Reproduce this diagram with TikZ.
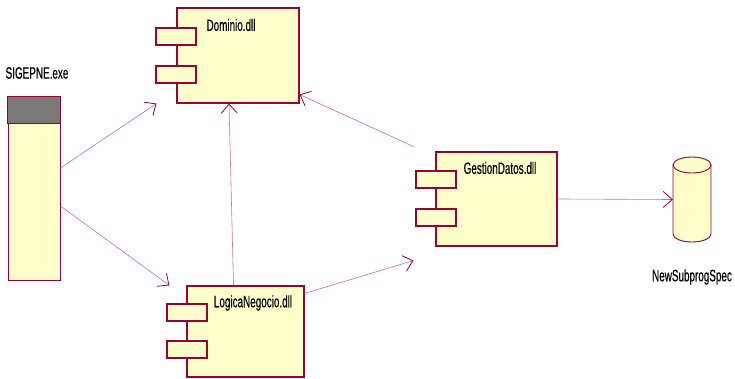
\documentclass[tikz,border=0pt]{standalone}
\usepackage{fontspec}
\newfontfamily\narrowfont{Liberation Sans}[FakeStretch=0.6,FakeBold=0.4]
\usetikzlibrary{arrows.meta}
\definecolor{edgered}{RGB}{153,0,51}
\definecolor{linkpink}{RGB}{212,110,145}
\definecolor{compfill}{RGB}{255,255,204}
\tikzset{
  comp/.style={draw=edgered,fill=compfill,line width=1.1pt,inner sep=0pt},
  port/.style={draw=edgered,fill=compfill,line width=1.1pt,inner sep=0pt,
    minimum width=40,minimum height=17,anchor=north west},
  lbl/.style={font=\narrowfont\fontsize{16.5}{18}\selectfont,inner sep=0pt},
  dep/.style={draw=linkpink,line width=0.6pt,
    -{Straight Barb[length=9pt,width=16pt,line width=0.8pt,color=edgered]}}
}
\begin{document}
\begin{tikzpicture}[x=1pt,y=-1pt]
\useasboundingbox (0,0) rectangle (735,379);

% SIGEPNE.exe
\node[lbl] (exelbl) at (37,73) {SIGEPNE.exe};
\node[draw=edgered,fill=compfill,line width=0.9pt,minimum width=52,minimum height=183,inner sep=0pt] (exe) at (34,188.5) {};
\fill[gray!95!black] (exe.north west) rectangle ([yshift=-27]exe.north east);
\draw[edgered,line width=0.9pt] (exe.north west) rectangle ([yshift=-27]exe.north east);

% Dominio.dll
\node[comp,minimum width=122,minimum height=95] (dom) at (238,55.5) {};
\node[port] at ([shift={(-21,20)}]dom.north west) {};
\node[port] at ([shift={(-21,58)}]dom.north west) {};
\node[lbl] (domlbl) at (231,25) {Dominio.dll};

% LogicaNegocio.dll
\node[comp,minimum width=117,minimum height=91] (log) at (245.5,331.5) {};
\node[port] at ([shift={(-20,18)}]log.north west) {};
\node[port] at ([shift={(-20,55)}]log.north west) {};
\node[lbl] (loglbl) at (253,303) {LogicaNegocio.dll};

% GestionDatos.dll
\node[comp,minimum width=121,minimum height=94] (gest) at (496.5,199) {};
\node[port] at ([shift={(-20,19)}]gest.north west) {};
\node[port] at ([shift={(-20,57)}]gest.north west) {};
\node[lbl] (gestlbl) at (500,168) {GestionDatos.dll};

% NewSubprogSpec
\node[minimum width=38,minimum height=85,inner sep=0pt] (db) at (692,199.5) {};
\filldraw[draw=edgered,fill=compfill,line width=0.9pt]
  (673,165) -- (673,234) arc[start angle=180,end angle=0,x radius=19,y radius=8] -- (711,165) -- cycle;
\filldraw[draw=edgered,fill=compfill,line width=0.9pt] (692,165) ellipse[x radius=19,y radius=8];
\node[lbl] (dblbl) at (692,277) {NewSubprogSpec};

% dependencies
\draw[dep] ([yshift=20.5]exe.east) -- ([xshift=-20]dom.south west);
\draw[dep] ([yshift=-17.5]exe.east) -- ([xshift=-17]log.north west);
\draw[dep] ([xshift=-12]log.north) -- ([xshift=-9]dom.south);
\draw[dep] ([shift={(-22,-5)}]gest.north west) -- ([yshift=9]dom.south east);
\draw[dep] ([yshift=-8]log.north east) -- ([shift={(-22,14)}]gest.south west);
\draw[dep] (gest.east) -- (db.west);

\end{tikzpicture}
\end{document}
